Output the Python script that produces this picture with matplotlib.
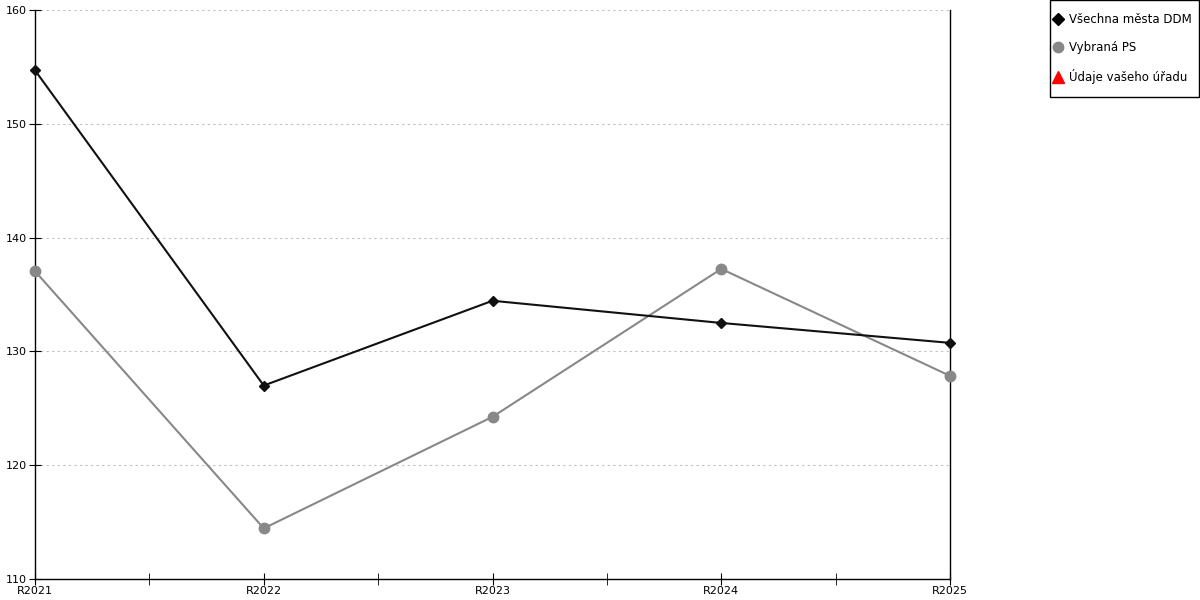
import matplotlib
matplotlib.use("Agg")
import matplotlib.pyplot as plt
from matplotlib.lines import Line2D
from matplotlib.patches import Rectangle
from matplotlib.ticker import MultipleLocator

categories = ["R2021", "R2022", "R2023", "R2024", "R2025"]
vsechna_mesta = [154.7, 127.0, 134.45, 132.5, 130.75]
vybrana_ps = [137.05, 114.45, 124.25, 137.25, 127.85]
udaje_uradu = []

fig = plt.figure(figsize=(12, 6), dpi=100)
ax = fig.add_axes([35/1200, 1 - 579/600, (950-35)/1200, (579-10)/600])

x = list(range(len(categories)))
ax.plot(x, vsechna_mesta, color="#111111", lw=1.5, marker="D", ms=5.5, zorder=4, clip_on=False)
ax.plot(x, vybrana_ps, color="#888888", lw=1.5, marker="o", ms=7.5, zorder=3, clip_on=False)

ax.set_xlim(0, len(categories) - 1)
ax.set_ylim(110, 160)
ax.yaxis.set_major_locator(MultipleLocator(10))
ax.set_xticks(x)
ax.set_xticklabels(categories)
ax.set_xticks([i + 0.5 for i in x[:-1]], minor=True)

ax.grid(axis="y", color="#c0c0c0", linestyle=(0, (2, 3)), lw=0.8)
ax.set_axisbelow(True)

ax.spines["top"].set_visible(False)
for s in ["left", "bottom", "right"]:
    ax.spines[s].set_linewidth(1.0)
    ax.spines[s].set_color("black")

ax.tick_params(axis="y", direction="inout", length=8, labelsize=8, pad=2)
ax.tick_params(axis="x", which="both", direction="inout", length=8, labelsize=8, pad=1)
ax.tick_params(axis="x", which="minor", labelbottom=False)
ax.tick_params(axis="y", right=False)

# legend frame
fig.patches.append(Rectangle((1050/1200, 1 - 97/600), 149/1200, 96.5/600,
                             transform=fig.transFigure, fill=False,
                             edgecolor="black", lw=1.0))

handles = [
    Line2D([], [], color="black", marker="D", ms=6, lw=0),
    Line2D([], [], color="#888888", marker="o", ms=7.5, lw=0),
    Line2D([], [], color="red", marker="^", ms=8, lw=0),
]
labels = ["Všechna města DDM", "Vybraná PS", "Údaje vašeho úřadu"]
leg = fig.legend(handles, labels, loc="upper right", bbox_to_anchor=(1198/1200, 1 - 6.5/600),
                 frameon=False, fontsize=8.5,
                 handlelength=0.6, handletextpad=0.62, labelspacing=1.27,
                 borderpad=0.55, borderaxespad=0)

fig.savefig("out.png", dpi=100)
